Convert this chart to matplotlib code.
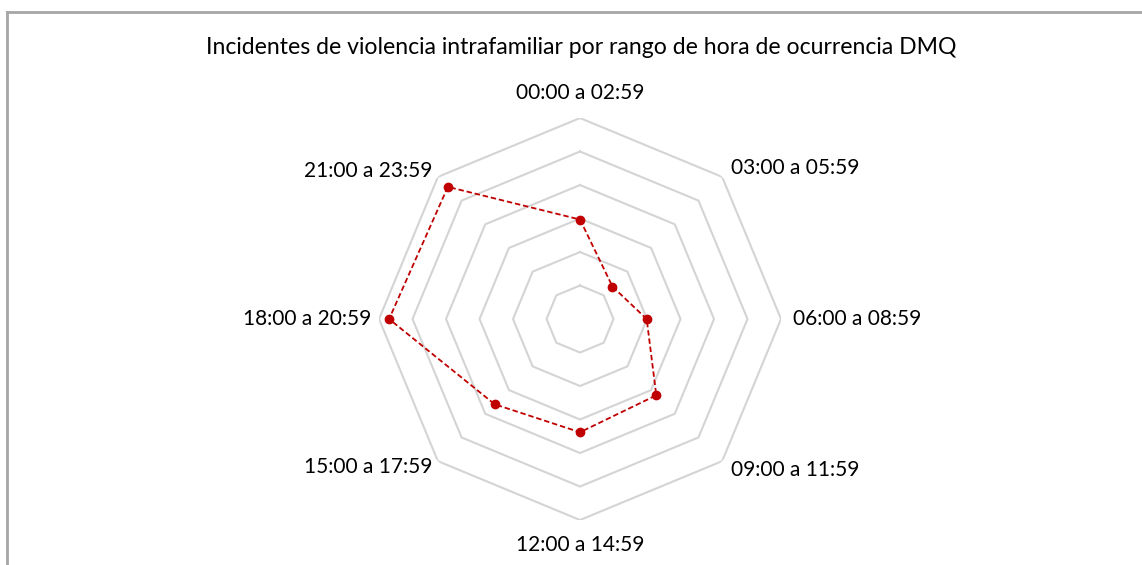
import numpy as np
import matplotlib
matplotlib.use('Agg')
import matplotlib.pyplot as plt
from matplotlib.lines import Line2D

# datos (escala aproximada)
rangos = ['00:00 a 02:59', '03:00 a 05:59', '06:00 a 08:59', '09:00 a 11:59',
          '12:00 a 14:59', '15:00 a 17:59', '18:00 a 20:59', '21:00 a 23:59']
incidentes = [2970, 1370, 1990, 3220, 3380, 3600, 5700, 5580]
anillos = [1000, 2000, 3000, 4000, 5000, 6000]

titulo = 'Incidentes de violencia intrafamiliar por rango de hora de ocurrencia DMQ'

plt.rcParams['font.family'] = ['Lato', 'DejaVu Sans']

fig = plt.figure(figsize=(11.42, 5.65), dpi=100)
ax = fig.add_axes([0.3319, 0.0796, 0.352, 0.7115], projection='polar')
ax.set_theta_zero_location('N')
ax.set_theta_direction(-1)

n = len(rangos)
ang = np.linspace(0, 2 * np.pi, n, endpoint=False)
ang_c = np.append(ang, ang[0])

# rejilla octogonal
for r in anillos:
    ax.plot(ang_c, [r] * (n + 1), color='#d4d4d4', lw=1.5, zorder=1)

vals = np.append(incidentes, incidentes[0])
ax.plot(ang_c, vals, color='#c00000', lw=1.3, ls=(0, (3, 1.6)), zorder=3)
ax.plot(ang, incidentes, 'o', color='#c00000', ms=6, zorder=4)

ax.set_ylim(0, anillos[-1])
ax.set_xticks([])
ax.set_yticks([])
ax.grid(False)
ax.spines['polar'].set_visible(False)
ax.patch.set_alpha(0)

# etiquetas de las categorias
rmax = anillos[-1]
fs = 15
for a, lab in zip(ang, rangos):
    s = np.sin(a)
    if abs(s) < 1e-6:
        ax.text(a, rmax * 1.125, lab, ha='center', va='center', fontsize=fs)
    elif s > 0:
        ax.text(a, rmax * 1.06, lab, ha='left', va='center', fontsize=fs)
    else:
        ax.text(a, rmax * 1.04, lab, ha='right', va='center', fontsize=fs)

fig.text(0.5087, 1 - 48 / 565, titulo, ha='center', va='center', fontsize=16.6)

# marco
fig.add_artist(Line2D([7 / 1142, 7 / 1142], [0, 1 - 12 / 565], color='#a6a6a6', lw=2))
fig.add_artist(Line2D([7 / 1142, 1], [1 - 12 / 565, 1 - 12 / 565], color='#a6a6a6', lw=2))

fig.savefig('out.png', dpi=100)
